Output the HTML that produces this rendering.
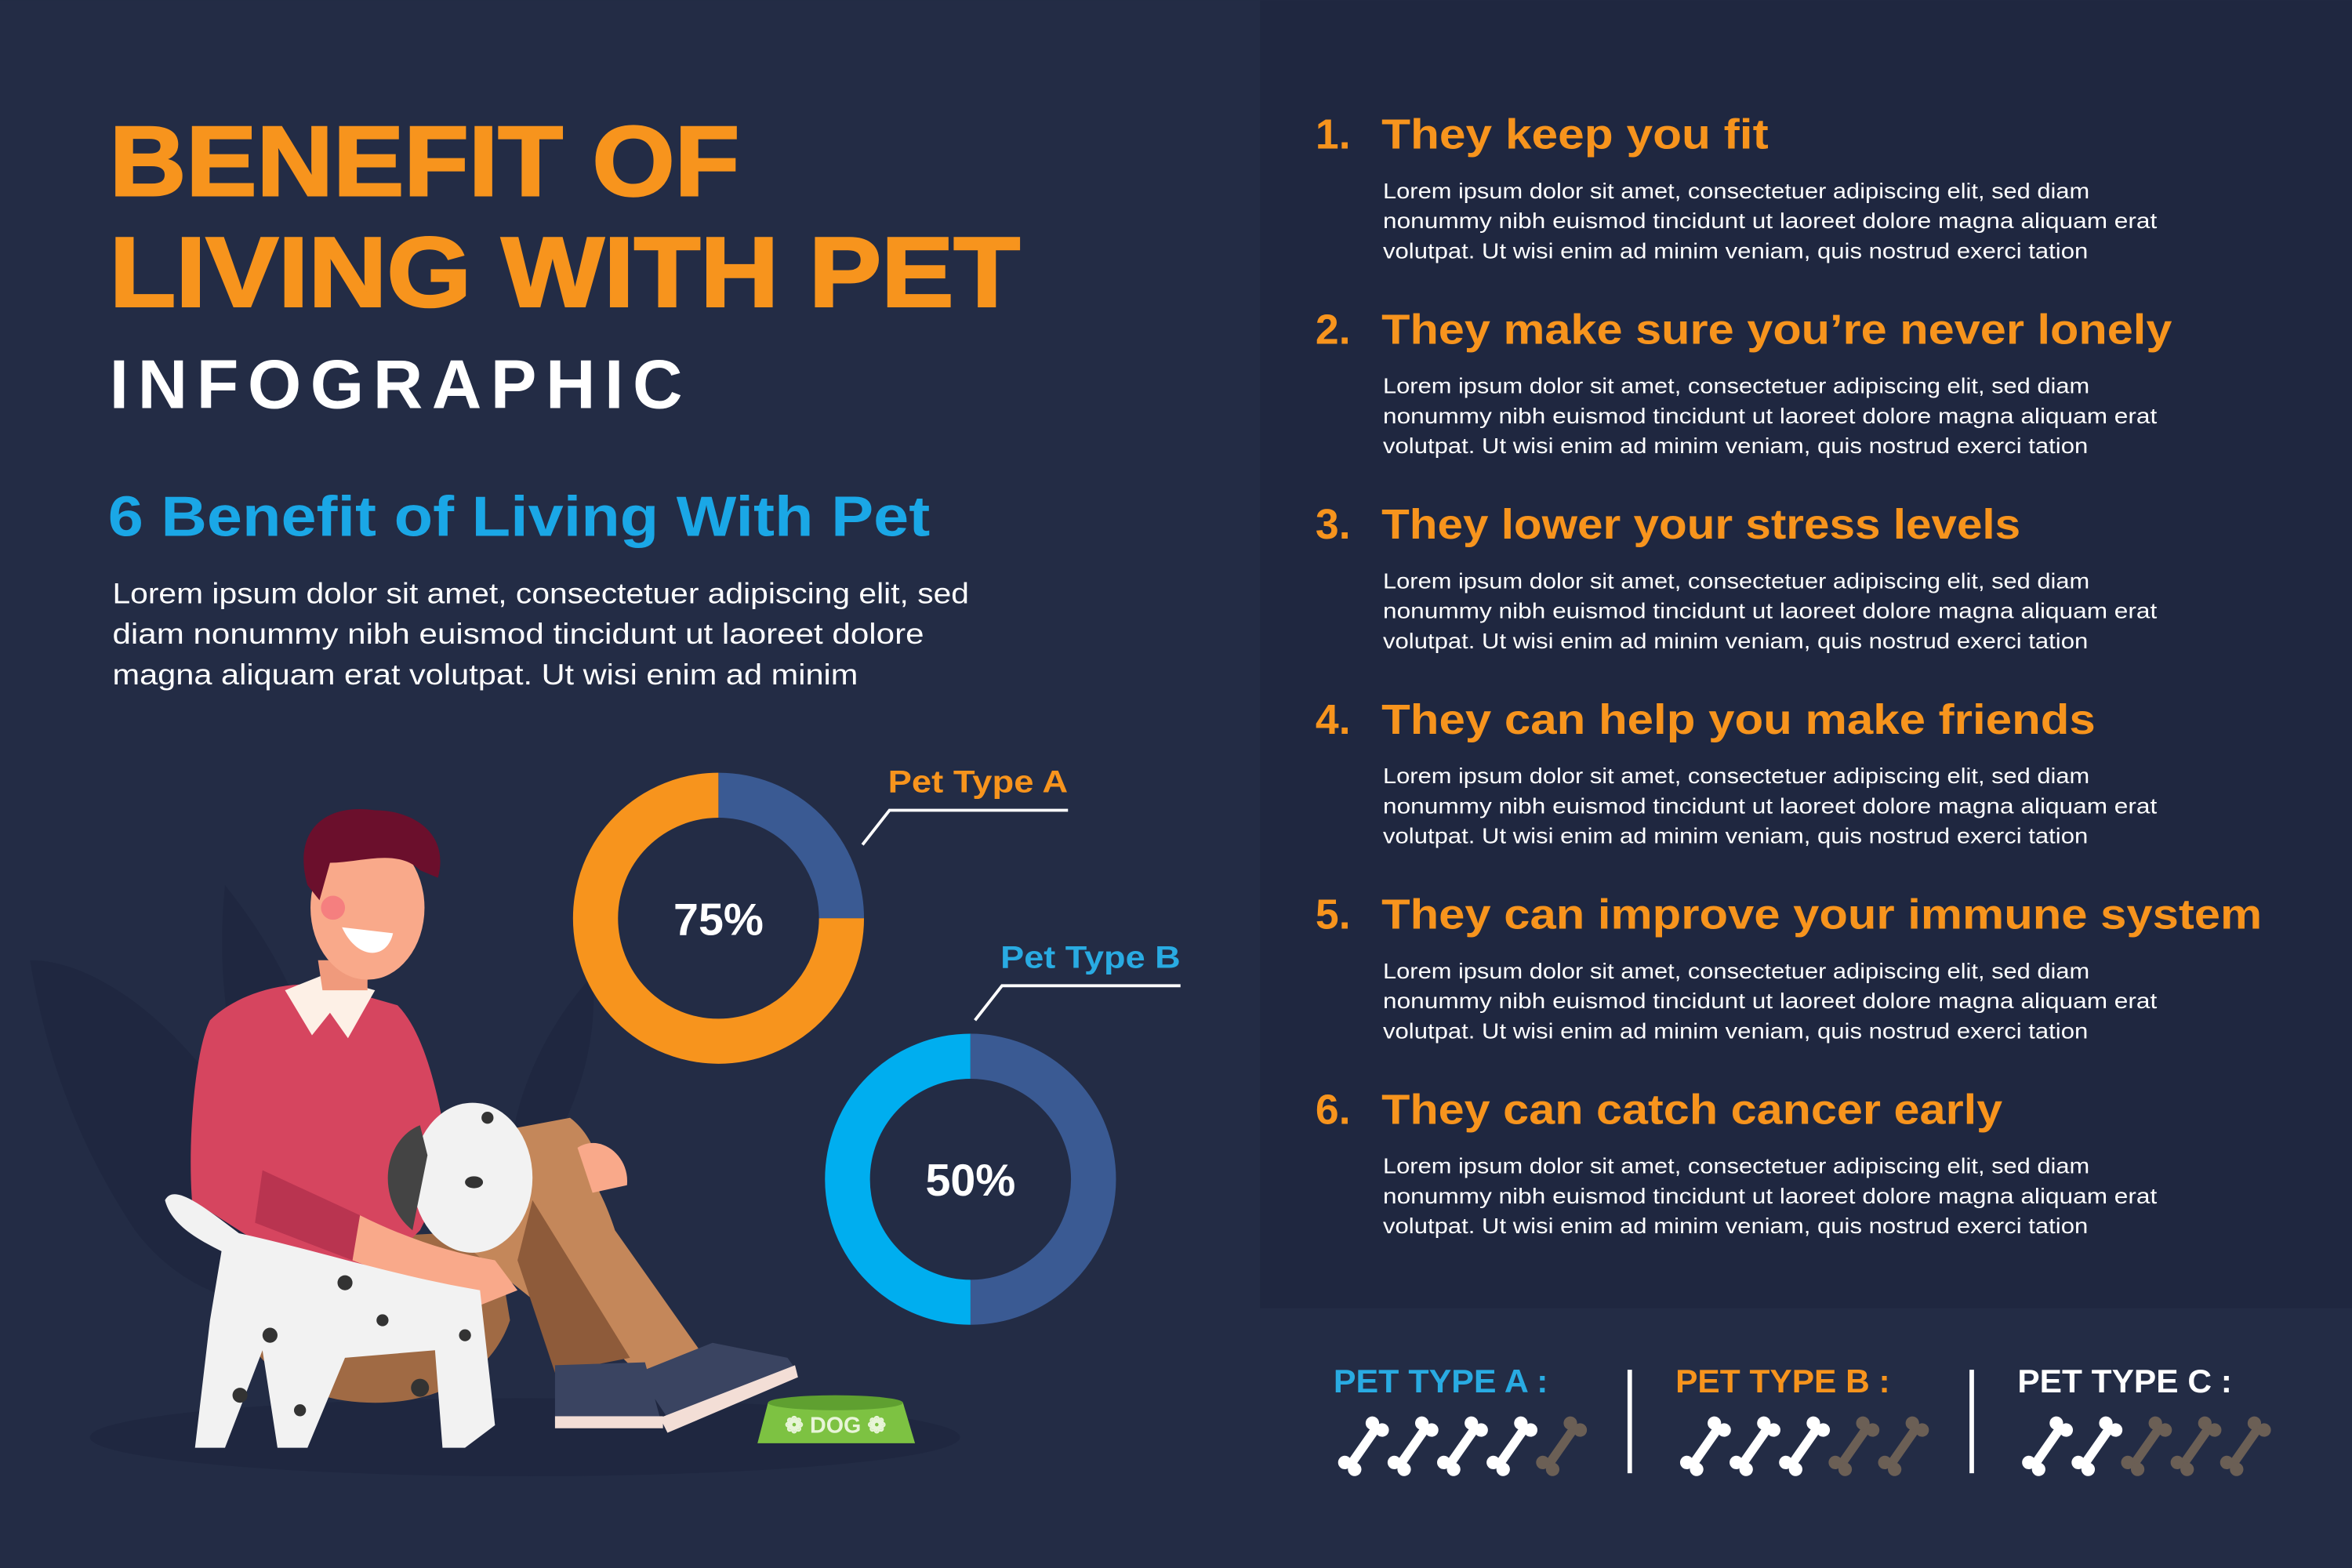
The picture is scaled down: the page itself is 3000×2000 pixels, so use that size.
<!DOCTYPE html>
<html><head><meta charset="utf-8"><style>
html,body{margin:0;padding:0;background:#232c45;}
svg{display:block;}
text{font-family:"Liberation Sans",sans-serif;}
</style></head><body>
<svg id="main" width="3000" height="2000" viewBox="0 0 1568 1045" xmlns="http://www.w3.org/2000/svg">
<rect x="0" y="0" width="1568" height="1045" fill="#232c45"/>
<rect x="840" y="0" width="728" height="872" fill="#1f2740"/>

<g>
<text x="73" y="130" font-size="66" font-weight="bold" fill="#f7941d" textLength="420" lengthAdjust="spacingAndGlyphs" stroke="#f7941d" stroke-width="1.5">BENEFIT OF</text>
<text x="73" y="204" font-size="66" font-weight="bold" fill="#f7941d" textLength="607" lengthAdjust="spacingAndGlyphs" stroke="#f7941d" stroke-width="1.5">LIVING WITH PET</text>
<text x="73" y="272" font-size="46" font-weight="bold" fill="#ffffff" textLength="382" lengthAdjust="spacing">INFOGRAPHIC</text>
<text x="72" y="357" font-size="38" font-weight="bold" fill="#1aa7e6" textLength="548" lengthAdjust="spacingAndGlyphs">6 Benefit of Living With Pet</text>
<text x="75" y="402" font-size="19.5" fill="#ffffff" textLength="571" lengthAdjust="spacingAndGlyphs">Lorem ipsum dolor sit amet, consectetuer adipiscing elit, sed</text>
<text x="75" y="429" font-size="19.5" fill="#ffffff" textLength="541" lengthAdjust="spacingAndGlyphs">diam nonummy nibh euismod tincidunt ut laoreet dolore</text>
<text x="75" y="456" font-size="19.5" fill="#ffffff" textLength="497" lengthAdjust="spacingAndGlyphs">magna aliquam erat volutpat. Ut wisi enim ad minim</text>
</g>

<g>
<path d="M20 640 C80 640 170 720 210 860 C170 880 120 860 90 820 C50 760 30 700 20 640 Z" fill="#1f2740"/>
<path d="M150 590 C190 640 220 700 230 800 C200 790 170 760 160 720 C150 680 145 640 150 590 Z" fill="#1f2740"/>
<path d="M395 650 C400 700 380 760 340 800 C335 760 350 700 395 650 Z" fill="#1f2740"/>
<ellipse cx="350" cy="958" rx="290" ry="26" fill="#1f2740"/>
<path d="M150 830 C150 900 190 935 250 935 C300 935 330 910 340 880 L330 820 Z" fill="#a06a44"/>
<path d="M300 760 L380 745 C400 760 405 790 395 810 L360 870 L310 830 Z" fill="#c4875a"/>
<path d="M355 770 C385 760 400 790 410 820 L470 905 L430 920 L370 860 Z" fill="#c4875a"/>
<path d="M355 800 L420 905 L370 915 L345 840 Z" fill="#8e5b3a"/>
<path d="M370 910 L430 908 L440 945 L370 948 Z" fill="#3a4461"/>
<rect x="370" y="944" width="72" height="8" fill="#f3ded6"/>
<path d="M425 915 L475 895 L525 905 L530 912 L445 945 Z" fill="#3a4461"/>
<path d="M440 945 L530 910 L532 918 L445 955 Z" fill="#f3ded6"/>
<path d="M140 680 C160 660 200 650 230 660 L265 670 C285 690 295 740 300 780 L280 820 L250 850 L175 830 L128 800 C125 760 130 700 140 680 Z" fill="#d6455f"/>
<path d="M175 780 L240 810 L235 840 L170 815 Z" fill="#b93450"/>
<path d="M190 660 L215 650 L250 660 L232 692 L220 675 L208 690 Z" fill="#fdf0e6"/>
<path d="M212 640 L245 640 L245 660 L215 660 Z" fill="#f09a7c"/>
<ellipse cx="245" cy="605" rx="38" ry="48" fill="#f9a98a"/>
<path d="M205 590 C195 555 215 535 250 540 C275 540 300 555 292 585 L280 580 C265 565 240 575 220 575 L213 600 Z" fill="#6b0f2c"/>
<circle cx="222" cy="605" r="8" fill="#f57f7f"/>
<path d="M228 618 C238 640 258 640 262 622 Z" fill="#ffffff"/>
<path d="M240 810 C270 825 300 835 330 840 L345 860 L320 870 C290 860 260 850 235 840 Z" fill="#f9a98a"/>
<path d="M110 800 C115 790 130 800 150 815 L170 830 L160 840 C140 830 115 820 110 800 Z" fill="#f2f2f2"/>
<path d="M150 820 C200 830 260 850 320 860 L330 950 L310 965 L295 965 L290 900 L230 905 L205 965 L185 965 L175 900 L150 965 L130 965 L140 880 Z" fill="#f2f2f2"/>
<ellipse cx="315" cy="785" rx="40" ry="50" fill="#f2f2f2"/>
<path d="M280 750 C255 760 250 800 275 820 L285 770 Z" fill="#444"/>
<ellipse cx="316" cy="788" rx="6" ry="4" fill="#333"/>
<g fill="#333">
<circle cx="180" cy="890" r="5"/><circle cx="200" cy="940" r="4"/><circle cx="230" cy="855" r="5"/><circle cx="280" cy="925" r="6"/><circle cx="310" cy="890" r="4"/><circle cx="160" cy="930" r="5"/><circle cx="255" cy="880" r="4"/><circle cx="325" cy="745" r="4"/>
</g>
<path d="M385 765 C400 755 420 770 418 790 L395 795 Z" fill="#f9a98a"/>
<path d="M512 935 L602 935 L610 962 L505 962 Z" fill="#7dc242"/>
<ellipse cx="557" cy="935" rx="45" ry="5" fill="#5fa030"/>
<text x="557" y="955" font-size="15" font-weight="bold" fill="#e8f5d8" text-anchor="middle">❁ DOG ❁</text>
</g>

<g id="donuts"></g>

<g id="benefits"></g>

<g id="ratings"></g>
</svg>
<script>
const NS = "http://www.w3.org/2000/svg";
const petLabels = ["Pet Type A", "Pet Type B"];
const petValues = [75, 50];
const petColors = ["#f7941d", "#00aeef"];
const petLabelColors = ["#f7941d", "#29abe2"];
const donutCenters = [[479, 612], [647, 786]];
const calloutStarts = [[575, 563], [650, 680]];

const benefitTitles = ["They keep you fit", "They make sure you\u2019re never lonely", "They lower your stress levels", "They can help you make friends", "They can improve your immune system", "They can catch cancer early"];
const benefitTitleWidths = [258, 527, 426, 476, 587, 414];

const ratingLabels = ["PET TYPE A :", "PET TYPE B :", "PET TYPE C :"];
const ratingScores = [4, 3, 2];
const ratingMax = 5;

function mk(tag, attrs, parent) {
  const e = document.createElementNS(NS, tag);
  for (const k in attrs) e.setAttribute(k, attrs[k]);
  parent.appendChild(e);
  return e;
}
function pt(cx, cy, r, frac) {
  const a = frac * 2 * Math.PI - Math.PI / 2;
  return [cx + r * Math.cos(a), cy + r * Math.sin(a)];
}
function arc(cx, cy, r, f0, f1) {
  const p0 = pt(cx, cy, r, f0), p1 = pt(cx, cy, r, f1);
  const large = (f1 - f0) > 0.5 ? 1 : 0;
  return `M${p0[0]} ${p0[1]} A${r} ${r} 0 ${large} 1 ${p1[0]} ${p1[1]}`;
}

const dg = document.getElementById("donuts");
petValues.forEach((v, i) => {
  const [cx, cy] = donutCenters[i];
  const r = 82, sw = 30;
  const rest = (100 - v) / 100;
  const g = mk("g", {}, dg);
  
  
  const rem = mk("path", { d: arc(cx, cy, r, 0, rest), fill: "none", stroke: "#3a5a93", "stroke-width": sw }, g);
  
  
  const val = mk("path", { d: arc(cx, cy, r, rest, 0.9999), fill: "none", stroke: petColors[i], "stroke-width": sw }, g);
  
  
  const t = mk("text", { x: cx, y: cy + 11, "font-size": 30, "font-weight": "bold", fill: "#fff", "text-anchor": "middle" }, g);
  t.textContent = v + "%";
  
  
  const [lx, ly] = calloutStarts[i];
  const ln = mk("polyline", { points: `${lx},${ly} ${lx + 18},${ly - 23} ${lx + 137},${ly - 23}`, fill: "none", stroke: "#fff", "stroke-width": 2 }, g);
  
  
  const lb = mk("text", { x: lx + 17, y: ly - 35, "font-size": 21, "font-weight": "bold", fill: petLabelColors[i], textLength: 120, lengthAdjust: "spacingAndGlyphs" }, g);
  lb.textContent = petLabels[i];
  
  
});

const bg = document.getElementById("benefits");
const bodyLines = ["Lorem ipsum dolor sit amet, consectetuer adipiscing elit, sed diam", "nonummy nibh euismod tincidunt ut laoreet dolore magna aliquam erat", "volutpat. Ut wisi enim ad minim veniam, quis nostrud exerci tation"];
const bodyWidths = [471, 516, 470];
benefitTitles.forEach((title, i) => {
  const y = 99 + i * 130;
  const g = mk("g", {}, bg);
  
  
  const n = mk("text", { x: 877, y: y, "font-size": 28, "font-weight": "bold", fill: "#f7941d" }, g);
  n.textContent = (i + 1) + ".";
  
  
  const t = mk("text", { x: 921, y: y, "font-size": 28, "font-weight": "bold", fill: "#f7941d", textLength: benefitTitleWidths[i], lengthAdjust: "spacingAndGlyphs" }, g);
  t.textContent = title;
  
  
  bodyLines.forEach((l, j) => {
    const b = mk("text", { x: 922, y: y + 33 + j * 20, "font-size": 14.5, fill: "#fff", textLength: bodyWidths[j], lengthAdjust: "spacingAndGlyphs" }, g);
    b.textContent = l;
    
    
  });
});

const rg = document.getElementById("ratings");
const ratingColors = ["#29abe2", "#f7941d", "#ffffff"];
ratingLabels.forEach((lab, i) => {
  const x0 = 889 + i * 228;
  const g = mk("g", {}, rg);
  
  
  const t = mk("text", { x: x0, y: 928, "font-size": 22, "font-weight": "bold", fill: ratingColors[i], textLength: 143, lengthAdjust: "spacingAndGlyphs" }, g);
  t.textContent = lab;
  
  
  if (i > 0) {
    const d = mk("rect", { x: x0 - 32, y: 913, width: 3, height: 69, fill: "#fff" }, g);
    
    
  }
  for (let k = 0; k < ratingMax; k++) {
    const cx = x0 + 20 + k * 33, cy = 964;
    const col = k < ratingScores[i] ? "#ffffff" : "#6b5f55";
    const b = mk("g", { transform: `translate(${cx},${cy}) rotate(-55)`, fill: col }, g);
    
    
    mk("rect", { x: -15, y: -3, width: 30, height: 6 }, b);
    mk("circle", { cx: -16, cy: -4, r: 4.5 }, b);
    mk("circle", { cx: -16, cy: 4, r: 4.5 }, b);
    mk("circle", { cx: 16, cy: -4, r: 4.5 }, b);
    mk("circle", { cx: 16, cy: 4, r: 4.5 }, b);
  }
});
</script>
</body></html>
